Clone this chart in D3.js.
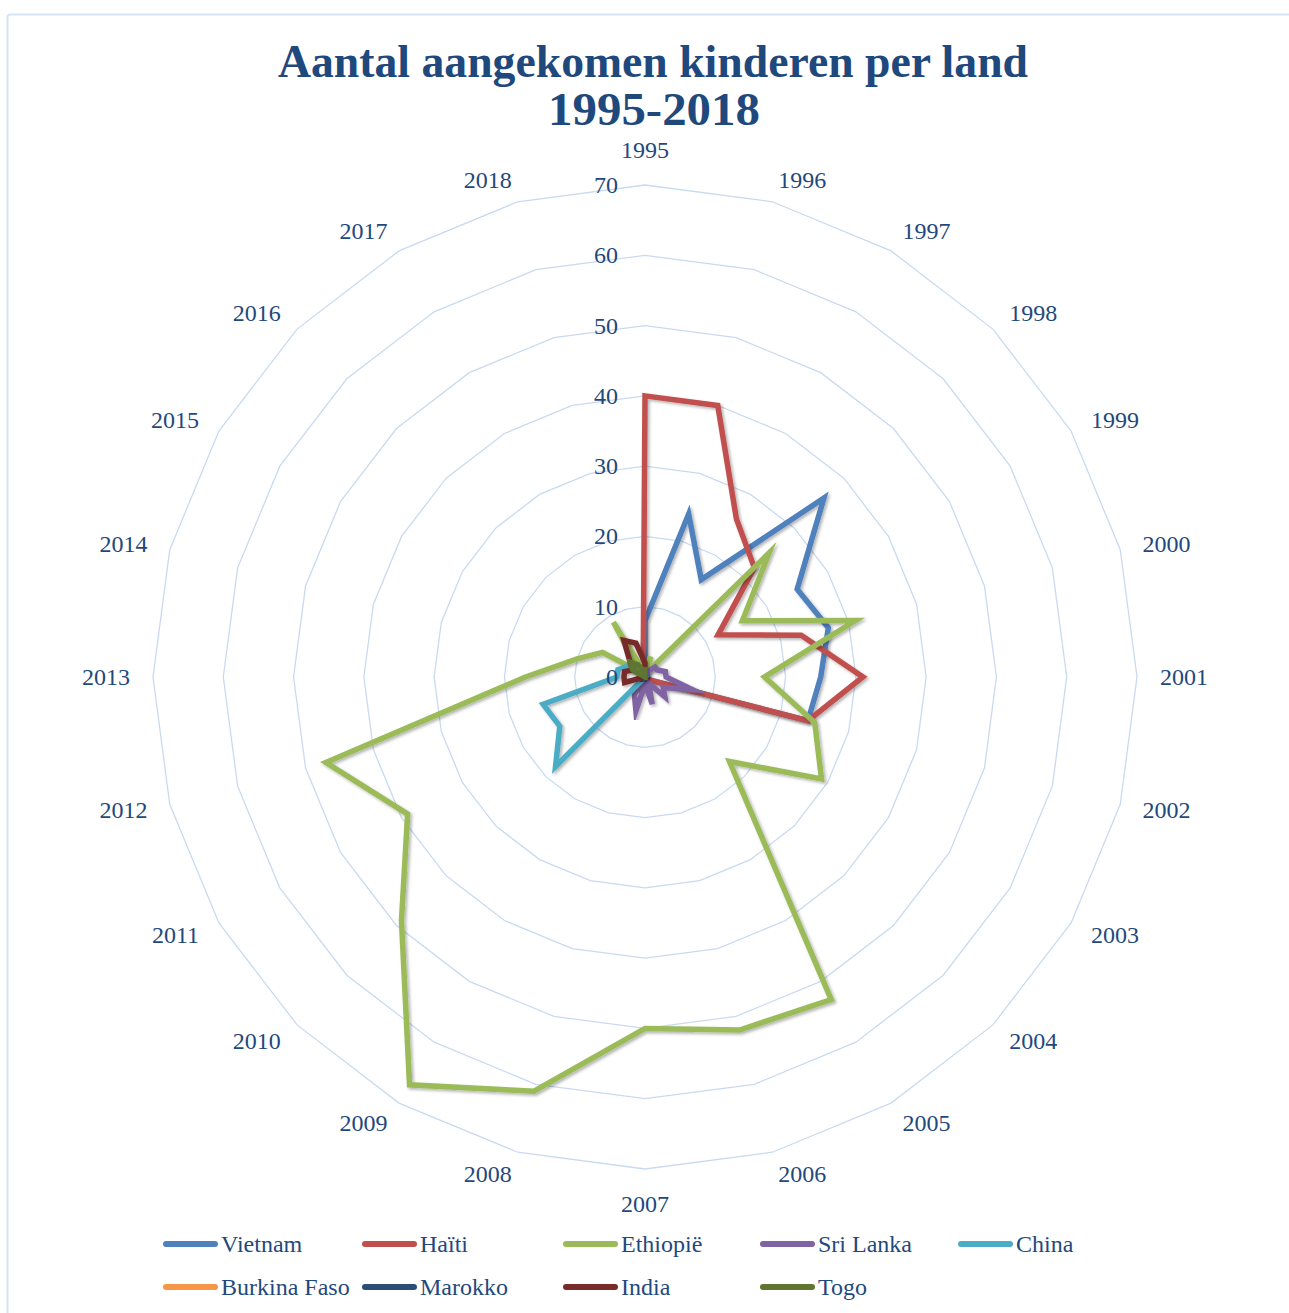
<!DOCTYPE html>
<html>
<head>
<meta charset="utf-8">
<script src="https://cdnjs.cloudflare.com/ajax/libs/d3/7.8.5/d3.min.js"></script>
<style>
  body { margin: 0; background: #fff; }
  svg { display: block; }
  text { font-family: "Liberation Serif", "Times New Roman", serif; fill: #1F497D; }
</style>
</head>
<body>
<div id="chart"></div>
<script>
var width = 1289,
    height = 1313;

var center = [645, 677],
    outerRadius = 492;

// jaren (assen van het radardiagram)
var years = ["1995","1996","1997","1998","1999","2000","2001","2002","2003","2004","2005","2006",
             "2007","2008","2009","2010","2011","2012","2013","2014","2015","2016","2017","2018"];

var ticks = [0, 10, 20, 30, 40, 50, 60, 70];

var countries = ["Vietnam", "Haïti", "Ethiopië", "Sri Lanka", "China", "Burkina Faso", "Marokko", "India", "Togo"];
var colors = ["#4F81BD", "#C0504D", "#9BBB59", "#8064A2", "#4BACC6", "#F79646", "#2C4D75", "#772C2A", "#5F7530"];

//                1995 .................................................................. 2018
var vietnam     = [8, 24, 16, 36, 25, 27, 25, 24, 1, 0, 0, 0, 0, 0, 0, 0, 0, 0, 0, 0, 0, 0, 0, 0];
var haiti       = [40, 40, 26, 22, 12, 23, 31, 24, 1, 0, 1, 0, 0, 2, 2, 0, 0, 0, 1, 0, 0, 0, 1, 1];
var ethiopie    = [1, 3, 1, 25, 16, 31, 17, 25, 29, 17, 53, 52, 50, 61, 67, 49, 39, 47, 17, 10, 7, 1, 9, 1];
var sriLanka    = [0, 0, 1, 2, 2, 3, 3, 7, 3, 4, 1, 4, 1, 5, 3, 1, 0, 0, 0, 0, 0, 0, 0, 0];
var china       = [0, 0, 0, 0, 0, 0, 0, 0, 0, 0, 0, 0, 0, 0, 0, 18, 14, 15, 4, 4, 3, 0, 0, 0];
var burkinaFaso = [0, 0, 0, 0, 0, 0, 0, 0, 0, 0, 0, 0, 0, 0, 0, 0, 0, 0, 1, 1, 0, 0, 0, 0];
var marokko     = [0, 0, 0, 0, 0, 0, 0, 0, 0, 0, 0, 0, 0, 0, 0, 0, 1, 0, 0, 0, 0, 0, 0, 0];
var india       = [2, 0, 0, 0, 0, 0, 0, 0, 0, 0, 0, 0, 0, 0, 0, 0, 0, 3, 3, 3, 2, 3, 6, 5];
var togo        = [1, 0, 0, 0, 0, 0, 0, 0, 0, 0, 0, 0, 0, 0, 0, 0, 0, 0, 0, 0, 2, 3, 2, 1];

var seriesValues = [vietnam, haiti, ethiopie, sriLanka, china, burkinaFaso, marokko, india, togo];

var angle = d3.scaleLinear()
    .domain([0, years.length])
    .range([0, 2 * Math.PI]);

var radius = d3.scaleLinear()
    .domain([0, 70])
    .range([0, outerRadius]);

var radarLine = d3.lineRadial()
    .angle(function(d, i) { return angle(i); })
    .radius(function(d) { return radius(d); })
    .curve(d3.curveLinearClosed);

var svg = d3.select("#chart").append("svg")
    .attr("width", width)
    .attr("height", height);

var defs = svg.append("defs");
defs.append("filter")
    .attr("id", "shadow")
    .attr("x", "-20%").attr("y", "-20%")
    .attr("width", "140%").attr("height", "140%")
  .append("feDropShadow")
    .attr("dx", 1.8)
    .attr("dy", 1.8)
    .attr("stdDeviation", 1.4)
    .attr("flood-color", "#000")
    .attr("flood-opacity", 0.3);

// kader rond de grafiek
svg.append("rect")
    .attr("x", 7.5)
    .attr("y", 14.5)
    .attr("width", 1320)
    .attr("height", 1330)
    .attr("rx", 3)
    .attr("fill", "none")
    .attr("stroke", "#D6E3F4")
    .attr("stroke-width", 2);

var plot = svg.append("g")
    .attr("transform", "translate(" + center[0] + "," + center[1] + ")");

drawTitle();
drawGrid();
drawSeries();
drawTicks();
drawLegend();

function drawTitle() {
  var title = svg.append("g").attr("class", "title");

  title.append("text")
      .attr("x", 653)
      .attr("y", 77)
      .attr("text-anchor", "middle")
      .attr("font-size", 47)
      .attr("font-weight", "bold")
      .attr("textLength", 750)
      .attr("lengthAdjust", "spacingAndGlyphs")
      .text("Aantal aangekomen kinderen per land");

  title.append("text")
      .attr("x", 654)
      .attr("y", 125)
      .attr("text-anchor", "middle")
      .attr("font-size", 47)
      .attr("font-weight", "bold")
      .attr("textLength", 212)
      .attr("lengthAdjust", "spacingAndGlyphs")
      .text("1995-2018");
}

function drawGrid() {
  plot.selectAll(".grid")
      .data(ticks.filter(function(t) { return t > 0; }))
    .enter().append("path")
      .attr("class", "grid")
      .attr("d", function(t) { return radarLine(years.map(function() { return t; })); })
      .attr("fill", "none")
      .attr("stroke", "#C9DAF0")
      .attr("stroke-width", 1.3);

  // jaarlabels: net buiten de buitenste ring, links/rechts uitgelijnd naargelang de kant
  var labelRadius = 515;

  plot.selectAll(".year")
      .data(years)
    .enter().append("text")
      .attr("class", "year")
      .attr("x", function(d, i) { return Math.sin(angle(i)) * labelRadius; })
      .attr("y", function(d, i) {
        var a = angle(i),
            s = Math.sin(a);
        var extra = Math.abs(s) < 0.01 ? 12 : 0;
        return -Math.cos(a) * (labelRadius + extra);
      })
      .attr("text-anchor", function(d, i) {
        var s = Math.sin(angle(i));
        return Math.abs(s) < 0.01 ? "middle" : (s > 0 ? "start" : "end");
      })
      .attr("dominant-baseline", "central")
      .attr("font-size", 24)
      .text(function(d) { return d; });
}

function drawSeries() {
  plot.selectAll(".series")
      .data(seriesValues)
    .enter().append("path")
      .attr("class", "series")
      .attr("d", function(d) { return radarLine(d); })
      .attr("fill", "none")
      .attr("stroke", function(d, i) { return colors[i]; })
      .attr("stroke-width", 5.5)
      .attr("stroke-linejoin", "miter")
      .attr("stroke-miterlimit", 6)
      .attr("filter", "url(#shadow)");
}

function drawTicks() {
  plot.selectAll(".tick")
      .data(ticks)
    .enter().append("text")
      .attr("class", "tick")
      .attr("x", -27)
      .attr("y", function(t) { return -radius(t); })
      .attr("text-anchor", "end")
      .attr("dominant-baseline", "central")
      .attr("font-size", 24)
      .text(function(t) { return t; });
}

function drawLegend() {
  var columns = [163, 362, 563, 760, 958],
      rows = [1244, 1287];

  var item = svg.append("g").attr("class", "legend")
      .selectAll("g")
      .data(countries)
    .enter().append("g")
      .attr("transform", function(d, i) {
        return "translate(" + columns[i % 5] + "," + rows[Math.floor(i / 5)] + ")";
      });

  item.append("line")
      .attr("x1", 3)
      .attr("x2", 52)
      .attr("y1", 0)
      .attr("y2", 0)
      .attr("stroke", function(d, i) { return colors[i]; })
      .attr("stroke-width", 6)
      .attr("stroke-linecap", "round");

  item.append("text")
      .attr("x", 58)
      .attr("dominant-baseline", "central")
      .attr("font-size", 24)
      .text(function(d) { return d; });
}
</script>
</body>
</html>
